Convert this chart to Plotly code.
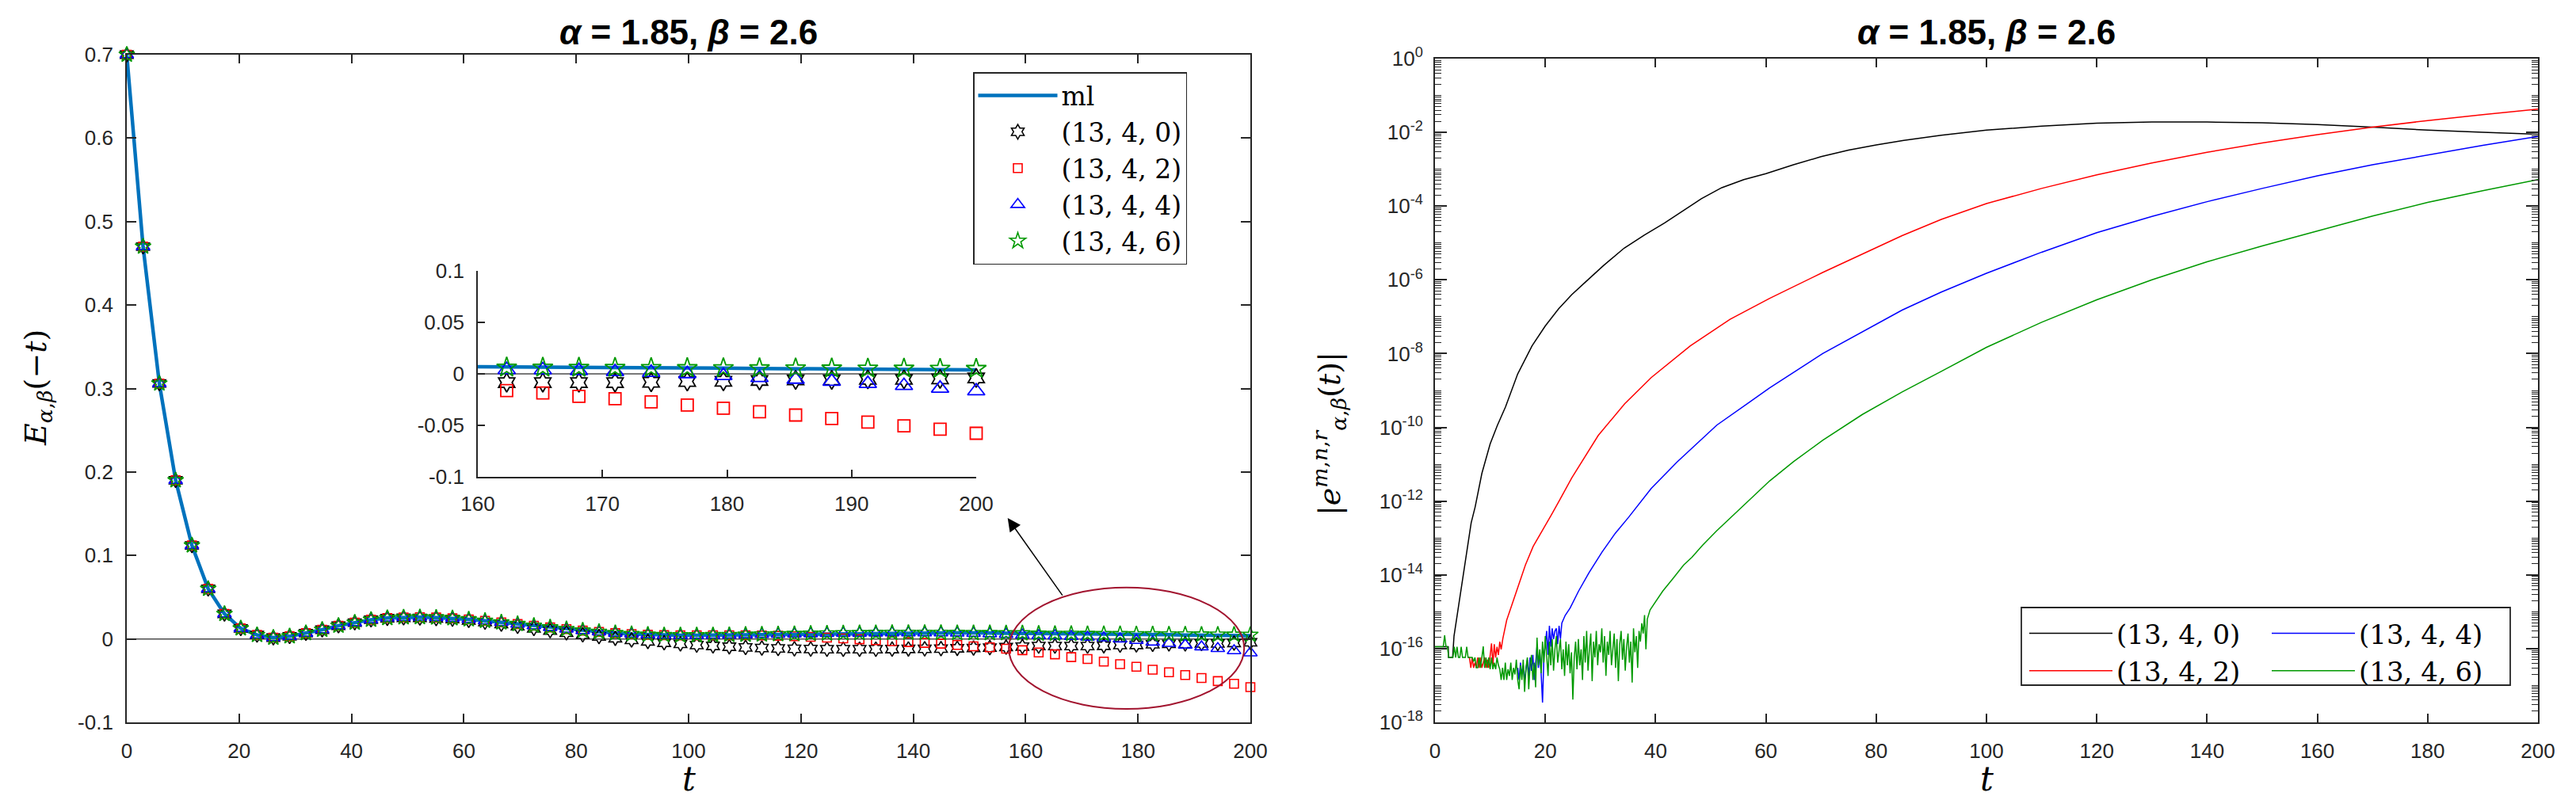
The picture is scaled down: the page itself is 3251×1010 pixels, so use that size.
import numpy as np
import plotly.graph_objects as go

# ---------------- left panel data (t sampled at 70 points) ----------------
t_main = np.linspace(0, 200, 70)

ml = [0.700, 0.470, 0.306, 0.190, 0.112, 0.060, 0.030, 0.0126, 0.0047, 0.0015,
      0.0031, 0.0069, 0.0110, 0.0158, 0.0195, 0.0230, 0.0250, 0.0258, 0.0260, 0.0256,
      0.0247, 0.0234, 0.0217, 0.0198, 0.0178, 0.0158, 0.0138, 0.0118, 0.0100, 0.0084,
      0.0069, 0.0058, 0.0050, 0.0045, 0.0043, 0.0043, 0.0045, 0.0047, 0.0050, 0.0053,
      0.0056, 0.0059, 0.0062, 0.0065, 0.0067, 0.0069, 0.0071, 0.0072, 0.0073, 0.0073,
      0.0073, 0.0073, 0.0072, 0.0071, 0.0070, 0.0069, 0.0068, 0.0066, 0.0064, 0.0062,
      0.0060, 0.0058, 0.0055, 0.0052, 0.0050, 0.0047, 0.0045, 0.0042, 0.0040, 0.0038]

approx_13_4_0 = [0.700, 0.470, 0.306, 0.190, 0.112, 0.060, 0.030, 0.0126, 0.0047, 0.0015,
                 0.0031, 0.0069, 0.0110, 0.0158, 0.0195, 0.0230, 0.0248, 0.0253, 0.0251, 0.0245,
                 0.0238, 0.0222, 0.0202, 0.0178, 0.0152, 0.0126, 0.0100, 0.0074, 0.0050, 0.0028,
                 0.0008, -0.0012, -0.0030, -0.0046, -0.0060, -0.0073, -0.0084, -0.0094, -0.0102, -0.0109,
                 -0.0114, -0.0118, -0.0121, -0.0123, -0.0124, -0.0124, -0.0123, -0.0122, -0.0120, -0.0118,
                 -0.0116, -0.0113, -0.0109, -0.0104, -0.0098, -0.0092, -0.0085, -0.0085, -0.0085, -0.0085,
                 -0.0082, -0.0074, -0.0072, -0.0064, -0.0059, -0.0059, -0.0054, -0.0054, -0.0049, -0.0040]

approx_13_4_2 = [0.700, 0.470, 0.306, 0.190, 0.112, 0.060, 0.030, 0.0126, 0.0047, 0.0015,
                 0.0031, 0.0069, 0.0110, 0.0158, 0.0195, 0.0230, 0.0250, 0.0258, 0.0260, 0.0256,
                 0.0247, 0.0234, 0.0217, 0.0198, 0.0178, 0.0158, 0.0138, 0.0118, 0.0100, 0.0084,
                 0.0069, 0.0058, 0.0050, 0.0045, 0.0043, 0.0043, 0.0044, 0.0044, 0.0044, 0.0042,
                 0.0038, 0.0032, 0.0025, 0.0016, 0.0006, -0.0005, -0.0016, -0.0027, -0.0038, -0.0047,
                 -0.0057, -0.0072, -0.0089, -0.0101, -0.0117, -0.0135, -0.0162, -0.0185, -0.0218, -0.0241,
                 -0.0272, -0.0303, -0.0333, -0.0369, -0.0400, -0.0433, -0.0469, -0.0505, -0.0538, -0.0577]

approx_13_4_4 = [0.700, 0.470, 0.306, 0.190, 0.112, 0.060, 0.030, 0.0126, 0.0047, 0.0015,
                 0.0031, 0.0069, 0.0110, 0.0158, 0.0195, 0.0230, 0.0250, 0.0258, 0.0260, 0.0256,
                 0.0247, 0.0234, 0.0217, 0.0198, 0.0178, 0.0158, 0.0138, 0.0118, 0.0100, 0.0084,
                 0.0069, 0.0058, 0.0050, 0.0045, 0.0043, 0.0043, 0.0045, 0.0047, 0.0050, 0.0053,
                 0.0056, 0.0059, 0.0062, 0.0065, 0.0067, 0.0069, 0.0071, 0.0072, 0.0073, 0.0073,
                 0.0073, 0.0071, 0.0068, 0.0062, 0.0055, 0.0047, 0.0040, 0.0038, 0.0030, 0.0020,
                 0.0013, 0.0000, -0.0018, -0.0038, -0.0054, -0.0074, -0.0095, -0.0115, -0.0141, -0.0167]

approx_13_4_6 = [0.700, 0.470, 0.306, 0.190, 0.112, 0.060, 0.030, 0.0126, 0.0047, 0.0015,
                 0.0031, 0.0069, 0.0110, 0.0158, 0.0195, 0.0230, 0.0250, 0.0258, 0.0260, 0.0256,
                 0.0247, 0.0234, 0.0217, 0.0198, 0.0178, 0.0158, 0.0138, 0.0118, 0.0100, 0.0084,
                 0.0069, 0.0058, 0.0050, 0.0045, 0.0043, 0.0043, 0.0045, 0.0047, 0.0050, 0.0053,
                 0.0056, 0.0059, 0.0062, 0.0065, 0.0067, 0.0069, 0.0071, 0.0072, 0.0073, 0.0073,
                 0.0072, 0.0071, 0.0070, 0.0069, 0.0068, 0.0067, 0.0062, 0.0061, 0.0060, 0.0059,
                 0.0058, 0.0057, 0.0056, 0.0055, 0.0054, 0.0053, 0.0052, 0.0051, 0.0050, 0.0049]

series_names = ["(13, 4, 0)", "(13, 4, 2)", "(13, 4, 4)", "(13, 4, 6)"]
inset_first = 56  # first sample with t >= 160

# ---------------- right panel data: log10 |error| ----------------
black_t = [0, 2.4, 2.45, 3.2, 3.45, 3.93, 4.4, 5.13, 5.85, 6.56,
           7.28, 8.5, 10.0, 11.3, 12.8, 15.0, 17.6, 20.0, 22.4, 24.8,
           27.2, 30.5, 34.3, 38.0, 41.6, 45.0, 48.3, 52, 56, 60,
           65, 70, 75, 80, 85, 91.8, 100, 110, 120, 130,
           140, 150, 160, 170, 180, 190, 200]
black_log = [-15.95, -15.95, -16.24, -16.24, -15.66, -15.17, -14.74, -13.95, -13.23, -12.59,
             -12.16, -11.25, -10.45, -9.95, -9.44, -8.55, -7.79, -7.25, -6.79, -6.40,
             -6.07, -5.62, -5.14, -4.78, -4.46, -4.12, -3.80, -3.50, -3.28, -3.12,
             -2.88, -2.66, -2.48, -2.34, -2.22, -2.08, -1.94, -1.83, -1.75, -1.72,
             -1.72, -1.74, -1.79, -1.86, -1.94, -2.00, -2.05]

red_noise_t0, red_noise_dt = 6.0, 0.25
red_noise_log = [-16.24, -16.24, -16.52, -16.24, -16.52, -16.38, -16.52, -16.24, -16.52, -16.24,
                 -16.52, -16.38, -16.24, -16.52, -16.30, -16.52, -16.24, -15.86, -16.45, -15.88,
                 -16.24, -15.95, -16.17, -15.81, -16.02]
red_t = [12.3, 13.0, 14.0, 14.95, 16.4, 17.8, 19.3, 21.2, 22.5, 24.8,
         29.6, 34.4, 39.2, 46.3, 53.5, 60.7, 70.3, 77.5, 84.7, 91.8,
         100, 110, 120, 130, 140, 150, 160, 170, 180, 190, 200]
red_log = [-15.73, -15.23, -14.80, -14.37, -13.73, -13.23, -12.85, -12.35, -12.00, -11.37,
           -10.22, -9.36, -8.65, -7.79, -7.07, -6.50, -5.80, -5.30, -4.80, -4.36,
           -3.93, -3.52, -3.15, -2.83, -2.54, -2.29, -2.06, -1.86, -1.68, -1.52, -1.37]

blue_noise_t0, blue_noise_dt = 15.0, 0.25
blue_noise_log = [-16.52, -16.85, -16.38, -16.70, -16.45, -16.88, -16.56, -16.30, -16.74, -16.24,
                  -16.60, -16.17, -16.85, -16.30, -15.95, -16.52, -16.10, -16.67, -17.46, -16.24,
                  -15.81, -15.52, -16.17, -15.38, -15.95, -15.45, -15.74, -15.52, -15.45, -15.88,
                  -15.38, -15.74, -15.31]
blue_t = [23.6, 24.5, 26.0, 27.9, 30.3, 32.7, 35.1, 39.2, 43.9, 51.1,
          60.7, 70.3, 84.7, 91.8, 100, 110, 120, 130, 140, 150,
          160, 170, 180, 190, 200]
blue_log = [-15.10, -14.90, -14.45, -13.95, -13.38, -12.87, -12.44, -11.66, -10.94, -9.94,
            -8.93, -8.00, -6.82, -6.33, -5.82, -5.25, -4.72, -4.28, -3.88, -3.52,
            -3.18, -2.88, -2.61, -2.35, -2.11]

green_noise_t0, green_noise_dt = 0.0, 0.25
green_noise_log = [-15.95, -15.95, -15.95, -15.95, -15.95, -15.95, -15.95, -15.64, -15.95, -15.95,
                   -16.24, -16.24, -16.24, -16.24, -15.95, -16.24, -15.95, -16.24, -16.24, -15.95,
                   -16.24, -16.24, -16.24, -15.95, -16.24, -16.24, -16.24, -16.24, -16.35, -16.24,
                   -16.52, -16.52, -16.24, -16.52, -16.24, -15.94, -16.52, -16.24, -16.52, -16.24,
                   -16.56, -16.24, -16.56, -16.38, -16.56, -16.24, -16.45, -16.56, -16.85, -16.52,
                   -16.85, -16.38, -16.85, -16.56, -16.74, -16.38, -16.85, -16.52, -16.70, -16.30,
                   -16.85, -17.10, -16.45, -16.85, -16.30, -17.17, -16.52, -16.24, -17.10, -16.45,
                   -16.17, -16.85, -16.38, -17.05, -15.70, -16.45, -16.02, -16.67, -15.81, -16.38,
                   -15.66, -16.24, -16.74, -15.81, -16.45, -15.74, -16.60, -16.02, -15.66, -16.38,
                   -16.10, -15.74, -16.56, -16.02, -16.74, -15.81, -16.45, -15.88, -16.67, -16.10,
                   -17.38, -16.24, -15.81, -16.56, -15.74, -16.45, -16.02, -16.85, -15.66, -16.38,
                   -15.52, -16.60, -16.02, -15.59, -16.88, -15.81, -16.24, -15.52, -16.45, -15.88,
                   -16.10, -15.45, -16.38, -15.66, -16.74, -15.81, -16.17, -15.52, -16.45, -15.95,
                   -15.59, -16.52, -15.74, -16.88, -15.88, -15.52, -16.30, -15.74, -16.60, -15.95,
                   -15.59, -16.38, -15.81, -16.92, -15.45, -16.10, -15.66, -16.52, -15.52, -15.81,
                   -15.31, -15.59, -15.09, -16.02, -15.20]
green_t = [39.0, 40.0, 41.3, 43.2, 45.1, 46.6, 48.5, 51.1, 55.0, 60.7,
           65.0, 70.3, 77.5, 84.7, 91.8, 100, 110, 120, 130, 140,
           150, 160, 170, 180, 190, 200]
green_log = [-14.95, -14.74, -14.44, -14.09, -13.73, -13.52, -13.20, -12.80, -12.25, -11.45,
             -10.93, -10.35, -9.65, -9.04, -8.48, -7.83, -7.15, -6.54, -6.00, -5.51,
             -5.08, -4.67, -4.27, -3.90, -3.58, -3.28]


def noisy_then_smooth(t0, dt, noise_log, smooth_t, smooth_log):
    tn = [t0 + i * dt for i in range(len(noise_log))]
    tt = tn + list(smooth_t)
    ll = list(noise_log) + list(smooth_log)
    return tt, [10.0 ** v for v in ll]


err_black = (black_t, [10.0 ** v for v in black_log])
err_red = noisy_then_smooth(red_noise_t0, red_noise_dt, red_noise_log, red_t, red_log)
err_blue = noisy_then_smooth(blue_noise_t0, blue_noise_dt, blue_noise_log, blue_t, blue_log)
err_green = noisy_then_smooth(green_noise_t0, green_noise_dt, green_noise_log, green_t, green_log)

# ---------------- styling ----------------
W, H = 3251, 1010
AX = "#262626"
ML_BLUE = "#0072BD"
GREEN = "#009900"
SANS = "Liberation Sans, Arial, sans-serif"
SERIF = "DejaVu Serif, Liberation Serif, serif"
TICKFONT = dict(family=SANS, size=26, color=AX)


def px_x(p):
    return p / W


def px_y(p):
    return 1 - p / H


main_x = [px_x(160), px_x(1578)]
main_y = [px_y(912), px_y(69)]
right_x = [px_x(1811), px_x(3203)]
right_y = [px_y(912), px_y(74)]
inset_x = [px_x(603), px_x(1232)]
inset_y = [px_y(602), px_y(342)]

fig = go.Figure()

# main panel
fig.add_trace(go.Scatter(x=t_main, y=ml, mode="lines", name="ml",
                         line=dict(color=ML_BLUE, width=4.5), legend="legend",
                         xaxis="x", yaxis="y"))
marker_specs = [
    (approx_13_4_0, "hexagram-open", "black", 14),
    (approx_13_4_2, "square-open", "#FF0000", 11),
    (approx_13_4_4, "triangle-up-open", "#0000FF", 15),
    (approx_13_4_6, "star-open", GREEN, 15),
]
for (vals, sym, col, sz), nm in zip(marker_specs, series_names):
    fig.add_trace(go.Scatter(x=t_main, y=vals, mode="markers", name=nm,
                             marker=dict(symbol=sym, size=sz, color=col,
                                         line=dict(color=col, width=1.6)),
                             cliponaxis=False, legend="legend",
                             xaxis="x", yaxis="y"))

# inset
fig.add_trace(go.Scatter(x=t_main[inset_first - 1:], y=ml[inset_first - 1:], mode="lines",
                         line=dict(color=ML_BLUE, width=4.5), showlegend=False,
                         xaxis="x3", yaxis="y3"))
for (vals, sym, col, sz), nm in zip(marker_specs, series_names):
    fig.add_trace(go.Scatter(x=t_main[inset_first:], y=vals[inset_first:], mode="markers",
                             marker=dict(symbol=sym, size=sz + 4, color=col,
                                         line=dict(color=col, width=1.8)),
                             cliponaxis=False, showlegend=False,
                             xaxis="x3", yaxis="y3"))

# right panel
for (tt, yy), col, nm, lg in [(err_black, "black", series_names[0], "legend2"),
                              (err_red, "#FF0000", series_names[1], "legend2"),
                              (err_blue, "#0000FF", series_names[2], "legend3"),
                              (err_green, GREEN, series_names[3], "legend3")]:
    fig.add_trace(go.Scatter(x=tt, y=yy, mode="lines", name=nm,
                             line=dict(color=col, width=1.5), legend=lg,
                             xaxis="x2", yaxis="y2"))

common_axis = dict(showline=True, linecolor=AX, linewidth=1.8, ticks="inside",
                   tickcolor=AX, tickwidth=1.8, tickfont=TICKFONT, showgrid=False,
                   zeroline=False, automargin=False)

xt = list(range(0, 201, 20))
yt_main = [-0.1, 0, 0.1, 0.2, 0.3, 0.4, 0.5, 0.6, 0.7]
yt_main_txt = ["-0.1", "0", "0.1", "0.2", "0.3", "0.4", "0.5", "0.6", "0.7"]
log_major = [10.0 ** (-k) for k in range(0, 19, 2)]
log_major_txt = ["10<sup>%s</sup>" % ("0" if k == 0 else "-%d" % k) for k in range(0, 19, 2)]
log_minor = [m * 10.0 ** (-k) for k in range(1, 19) for m in range(1, 10)
             if not (m == 1 and k % 2 == 0)]

fig.update_layout(
    template="none",
    width=W, height=H, autosize=False,
    margin=dict(l=0, r=0, t=0, b=0, pad=0, autoexpand=False),
    paper_bgcolor="white", plot_bgcolor="white",
    xaxis=dict(domain=main_x, range=[0, 200], tickvals=xt, ticklen=11, mirror="ticks",
               anchor="y", ticklabelstandoff=12, **common_axis),
    yaxis=dict(domain=main_y, range=[-0.1, 0.7], tickvals=yt_main, ticktext=yt_main_txt,
               ticklen=12, mirror="ticks", anchor="x", ticklabelstandoff=10, **common_axis),
    xaxis2=dict(domain=right_x, range=[0, 200], tickvals=xt, ticklen=11, mirror="ticks",
                anchor="y2", ticklabelstandoff=12, **common_axis),
    yaxis2=dict(domain=right_y, type="log", range=[-18, 0], tickvals=log_major,
                ticktext=log_major_txt, ticklen=15, mirror="ticks", anchor="x2",
                ticklabelstandoff=8,
                minor=dict(tickmode="array", tickvals=log_minor, ticks="inside",
                           ticklen=8, tickcolor=AX, tickwidth=1.4),
                **common_axis),
    xaxis3=dict(domain=inset_x, range=[160, 200], tickvals=[160, 170, 180, 190, 200],
                ticklen=9, mirror=False, anchor="y3", ticklabelstandoff=10, **common_axis),
    yaxis3=dict(domain=inset_y, range=[-0.1, 0.1], tickvals=[-0.1, -0.05, 0, 0.05, 0.1],
                ticktext=["-0.1", "-0.05", "0", "0.05", "0.1"], ticklen=9, mirror=False,
                anchor="x3", ticklabelstandoff=10, **common_axis),
    legend=dict(x=px_x(1228), y=px_y(91), xanchor="left", yanchor="top",
                bgcolor="white", bordercolor=AX, borderwidth=1.5,
                font=dict(family=SERIF, size=33, color="black"), itemwidth=100,
                tracegroupgap=0),
    legend2=dict(x=px_x(2556), y=px_y(771), xanchor="left", yanchor="top",
                 bgcolor="rgba(0,0,0,0)", borderwidth=0,
                 font=dict(family=SERIF, size=34, color="black"), itemwidth=105),
    legend3=dict(x=px_x(2862), y=px_y(771), xanchor="left", yanchor="top",
                 bgcolor="rgba(0,0,0,0)", borderwidth=0,
                 font=dict(family=SERIF, size=34, color="black"), itemwidth=105),
    showlegend=True,
)

shapes = [
    dict(type="line", xref="x", yref="y", x0=0, x1=200, y0=0, y1=0,
         line=dict(color="#4d4d4d", width=1.5), layer="below"),
    dict(type="line", xref="x3", yref="y3", x0=160, x1=200, y0=0, y1=0,
         line=dict(color="#4d4d4d", width=1.5), layer="below"),
    dict(type="circle", xref="x", yref="y", x0=157.0, x1=198.9, y0=-0.0839, y1=0.0616,
         line=dict(color="#A2142F", width=2)),
    dict(type="rect", xref="paper", yref="paper", x0=px_x(2551), x1=px_x(3168),
         y0=px_y(865), y1=px_y(767), line=dict(color=AX, width=1.8),
         fillcolor="rgba(0,0,0,0)", layer="above"),
]
fig.update_layout(shapes=shapes)

title_txt = "<b><i>α</i> = 1.85, <i>β</i> = 2.6</b>"
annotations = [
    dict(text=title_txt, x=(main_x[0] + main_x[1]) / 2, y=px_y(40), xref="paper", yref="paper",
         xanchor="center", yanchor="middle", showarrow=False,
         font=dict(family=SANS, size=44, color="black")),
    dict(text=title_txt, x=(right_x[0] + right_x[1]) / 2, y=px_y(40), xref="paper", yref="paper",
         xanchor="center", yanchor="middle", showarrow=False,
         font=dict(family=SANS, size=44, color="black")),
    dict(text="<i>t</i>", x=(main_x[0] + main_x[1]) / 2, y=px_y(983), xref="paper", yref="paper",
         xanchor="center", yanchor="middle", showarrow=False,
         font=dict(family=SERIF, size=42, color="black")),
    dict(text="<i>t</i>", x=(right_x[0] + right_x[1]) / 2, y=px_y(983), xref="paper", yref="paper",
         xanchor="center", yanchor="middle", showarrow=False,
         font=dict(family=SERIF, size=42, color="black")),
    dict(text="<i>E</i><sub><i>α</i>,<i>β</i></sub>(−<i>t</i>)", x=px_x(47), y=px_y(490),
         xref="paper", yref="paper", xanchor="center", yanchor="middle",
         textangle=-90, showarrow=False,
         font=dict(family=SERIF, size=38, color="black")),
    dict(text="|<i>e</i><sup><i>m</i>,<i>n</i>,<i>r</i></sup><sub><i>α</i>,<i>β</i></sub>(<i>t</i>)|",
         x=px_x(1677), y=px_y(548), xref="paper", yref="paper", xanchor="center",
         yanchor="middle", textangle=-90, showarrow=False,
         font=dict(family=SERIF, size=38, color="black")),
    dict(text="", x=156.8, y=0.1448, ax=166.7, ay=0.0508, xref="x", yref="y",
         axref="x", ayref="y", showarrow=True, arrowhead=2, arrowsize=2.2,
         arrowwidth=1.5, arrowcolor="black"),
]
fig.update_layout(annotations=annotations)

fig.write_html("out.html", config={"displayModeBar": False},
               post_script="document.body.style.margin='0';document.body.style.overflow='hidden';")
